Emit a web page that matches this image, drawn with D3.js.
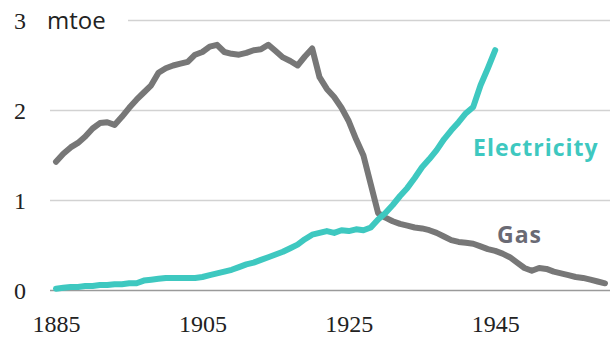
<!DOCTYPE html>
<html>
<head>
<meta charset="utf-8">
<script src="https://cdn.jsdelivr.net/npm/d3@7/dist/d3.min.js"></script>
<style>
  html, body { margin: 0; padding: 0; background: #fff; }
  svg { display: block; }
  .tick-label { font-family: "Liberation Serif", serif; font-size: 24px; fill: #222; }
  .unit { font-family: "Open Sans", sans-serif; font-size: 24px; fill: #222; }
  .series-label { font-family: "Open Sans", sans-serif; font-size: 23px; font-weight: 700; letter-spacing: 1px; }
</style>
</head>
<body>
<svg id="chart" width="616" height="337"></svg>
<script>
// Annual energy consumption, million tonnes of oil equivalent
const years = d3.range(1885, 1961);
const gas = [
  1.43, 1.52, 1.59, 1.64, 1.71, 1.80, 1.86, 1.87, 1.84, 1.93,
  2.03, 2.12, 2.20, 2.28, 2.42, 2.47, 2.50, 2.52, 2.54, 2.62,
  2.65, 2.71, 2.73, 2.65, 2.63, 2.62, 2.64, 2.67, 2.68, 2.73,
  2.66, 2.59, 2.55, 2.50, 2.60, 2.69, 2.37, 2.24, 2.15, 2.03,
  1.88, 1.68, 1.50, 1.18, 0.86, 0.81, 0.77, 0.74, 0.72, 0.70,
  0.69, 0.67, 0.64, 0.60, 0.56, 0.54, 0.53, 0.52, 0.49, 0.46,
  0.44, 0.41, 0.37, 0.31, 0.25, 0.22, 0.25, 0.24, 0.21, 0.19,
  0.17, 0.15, 0.14, 0.12, 0.10, 0.08
];
const electricity = [
  0.02, 0.03, 0.04, 0.04, 0.05, 0.05, 0.06, 0.06, 0.07, 0.07,
  0.08, 0.08, 0.11, 0.12, 0.13, 0.14, 0.14, 0.14, 0.14, 0.14,
  0.15, 0.17, 0.19, 0.21, 0.23, 0.26, 0.29, 0.31, 0.34, 0.37,
  0.40, 0.43, 0.47, 0.51, 0.57, 0.62, 0.64, 0.66, 0.64, 0.67,
  0.66, 0.68, 0.67, 0.70, 0.79, 0.86, 0.95, 1.05, 1.14, 1.25,
  1.37, 1.46, 1.56, 1.68, 1.78, 1.87, 1.97, 2.04, 2.28, 2.47,
  2.67
];
const yTicks = [0, 1, 2, 3];
const xTicks = [1885, 1905, 1925, 1945];
const unitLabel = "mtoe";

const svg = d3.select("#chart");
const x = d3.scaleLinear().domain([1885, 1960]).range([56, 605]);
const y = d3.scaleLinear().domain([0, 3]).range([290.5, 20.5]);
const gridLeft = 50, gridRight = 610;

// Horizontal gridlines (top one starts after the unit label)
svg.append("g").selectAll("line")
  .data(yTicks)
  .join("line")
  .attr("x1", d => d === 3 ? 128 : gridLeft)
  .attr("x2", gridRight)
  .attr("y1", d => y(d))
  .attr("y2", d => y(d))
  .attr("stroke", d => d === 0 ? "#9a9a9a" : "#d2d2d2")
  .attr("stroke-width", 1.5);

// Y axis labels
const yAxis = svg.append("g")
  .attr("transform", `translate(26,0)`)
  .call(d3.axisLeft(y).tickValues(yTicks).tickSize(0).tickPadding(0).tickFormat(d3.format("d")));
yAxis.select(".domain").remove();
yAxis.selectAll("text").attr("class", "tick-label").attr("dy", "0.34em").attr("font-size", null).attr("font-family", null);

svg.append("text")
  .attr("class", "unit")
  .attr("x", 47)
  .attr("y", y(3) + 8)
  .text(unitLabel);

// X axis labels
const xAxis = svg.append("g")
  .attr("transform", `translate(0,${y(0)})`)
  .call(d3.axisBottom(x).tickValues(xTicks).tickSize(0).tickPadding(0).tickFormat(d3.format("d")));
xAxis.select(".domain").remove();
xAxis.selectAll("text").attr("class", "tick-label").attr("dy", null).attr("y", 41.5).attr("font-size", null).attr("font-family", null);

// Series lines
const line = d3.line().x(d => x(d[0])).y(d => y(d[1]));
const gasColor = "#777777", elecColor = "#3ec8c0";

svg.append("path")
  .datum(years.map((yr, i) => [yr, gas[i]]))
  .attr("d", line)
  .attr("fill", "none")
  .attr("stroke", gasColor)
  .attr("stroke-width", 6)
  .attr("stroke-linejoin", "round")
  .attr("stroke-linecap", "round");

svg.append("path")
  .datum(electricity.map((v, i) => [years[i], v]))
  .attr("d", line)
  .attr("fill", "none")
  .attr("stroke", elecColor)
  .attr("stroke-width", 6)
  .attr("stroke-linejoin", "round")
  .attr("stroke-linecap", "round");

// Series labels
svg.append("text")
  .attr("class", "series-label")
  .attr("x", 473)
  .attr("y", 156)
  .attr("fill", elecColor)
  .text("Electricity");

svg.append("text")
  .attr("class", "series-label")
  .attr("x", 497)
  .attr("y", 243)
  .attr("fill", "#6a6a74")
  .text("Gas");
</script>
</body>
</html>
